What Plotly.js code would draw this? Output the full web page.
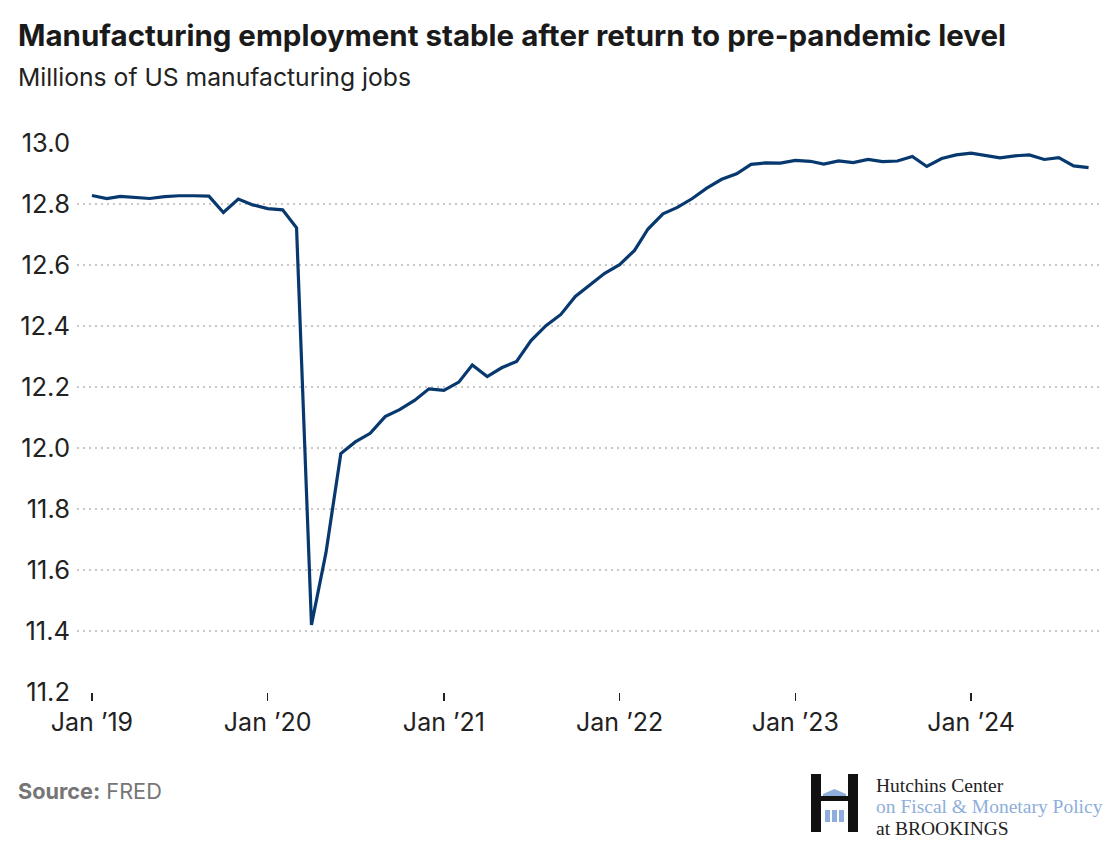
<!DOCTYPE html>
<html>
<head>
<meta charset="utf-8">
<script src="https://cdn.plot.ly/plotly-3.0.1.min.js"></script>
<style>
  html, body { margin: 0; padding: 0; background: #ffffff; }
  #chart { width: 1120px; height: 850px; }
</style>
</head>
<body>
<div id="chart"></div>
<script>
// ---- Data (millions of US manufacturing jobs, FRED MANEMP) ----
const months = [
  '2019-01-01','2019-02-01','2019-03-01','2019-04-01','2019-05-01','2019-06-01',
  '2019-07-01','2019-08-01','2019-09-01','2019-10-01','2019-11-01','2019-12-01',
  '2020-01-01','2020-02-01','2020-03-01','2020-04-01','2020-05-01','2020-06-01',
  '2020-07-01','2020-08-01','2020-09-01','2020-10-01','2020-11-01','2020-12-01',
  '2021-01-01','2021-02-01','2021-03-01','2021-04-01','2021-05-01','2021-06-01',
  '2021-07-01','2021-08-01','2021-09-01','2021-10-01','2021-11-01','2021-12-01',
  '2022-01-01','2022-02-01','2022-03-01','2022-04-01','2022-05-01','2022-06-01',
  '2022-07-01','2022-08-01','2022-09-01','2022-10-01','2022-11-01','2022-12-01',
  '2023-01-01','2023-02-01','2023-03-01','2023-04-01','2023-05-01','2023-06-01',
  '2023-07-01','2023-08-01','2023-09-01','2023-10-01','2023-11-01','2023-12-01',
  '2024-01-01','2024-02-01','2024-03-01','2024-04-01','2024-05-01','2024-06-01',
  '2024-07-01','2024-08-01','2024-09-01'
];
const jobs2019 = [12.828, 12.818, 12.825, 12.822, 12.818, 12.824, 12.827, 12.827, 12.826, 12.772, 12.816, 12.797];
const jobs2020 = [12.785, 12.781, 12.722, 11.420, 11.656, 11.982, 12.020, 12.048, 12.103, 12.126, 12.156, 12.194];
const jobs2021 = [12.189, 12.216, 12.272, 12.234, 12.263, 12.284, 12.352, 12.401, 12.438, 12.497, 12.534, 12.573];
const jobs2022 = [12.601, 12.648, 12.718, 12.768, 12.789, 12.818, 12.852, 12.881, 12.899, 12.930, 12.935, 12.934];
const jobs2023 = [12.943, 12.940, 12.931, 12.941, 12.936, 12.946, 12.939, 12.941, 12.956, 12.923, 12.949, 12.961];
const jobs2024 = [12.967, 12.958, 12.951, 12.958, 12.961, 12.946, 12.952, 12.925, 12.919];

const xTickVals = ['2019-01-01','2020-01-01','2021-01-01','2022-01-01','2023-01-01','2024-01-01'];
const xTickText = ['Jan \u201919','Jan \u201920','Jan \u201921','Jan \u201922','Jan \u201923','Jan \u201924'];
const yTickVals = [11.2, 11.4, 11.6, 11.8, 12.0, 12.2, 12.4, 12.6, 12.8, 13.0];

const titleText = 'Manufacturing employment stable after return to pre-pandemic level';
const subtitleText = 'Millions of US manufacturing jobs';
const sourceText = '<b>Source:</b> FRED';

// ---- Layout geometry ----
const W = 1120, H = 850;
const M = { l: 77, r: 17, t: 143, b: 158 };
const PW = W - M.l - M.r, PH = H - M.t - M.b;
const xp = px => (px - M.l) / PW;
const yp = py => (H - M.b - py) / PH;

const jobs = [].concat(jobs2019, jobs2020, jobs2021, jobs2022, jobs2023, jobs2024);

const FONT = 'Inter, "Noto Sans", sans-serif';
const SERIF = '"Liberation Serif", "DejaVu Serif", serif';
const logoBlue = '#8eaedb';

const trace = {
  x: months,
  y: jobs,
  type: 'scatter',
  mode: 'lines',
  line: { color: '#07396f', width: 3.2 },
  hoverinfo: 'x+y',
  cliponaxis: false
};

// Logo shapes (decoration)
function rectPx(x0, y0, x1, y1, color) {
  return { type: 'rect', xref: 'paper', yref: 'paper',
    x0: xp(x0), x1: xp(x1), y0: yp(y1), y1: yp(y0),
    fillcolor: color, line: { width: 0 }, layer: 'above' };
}
function pathPx(pts, color) {
  const d = pts.map((p, i) => (i ? 'L' : 'M') + xp(p[0]).toFixed(5) + ',' + yp(p[1]).toFixed(5)).join(' ') + ' Z';
  return { type: 'path', xref: 'paper', yref: 'paper', path: d,
    fillcolor: color, line: { width: 0 }, layer: 'above' };
}
const shapes = [
  rectPx(811, 774, 821, 832, '#111111'),
  rectPx(848, 774, 858, 832, '#111111'),
  rectPx(821, 796, 848, 801, '#111111'),
  pathPx([[823, 796], [846, 796], [846, 794], [834.5, 789], [823, 794]], logoBlue),
  rectPx(825, 810, 830, 822, logoBlue),
  rectPx(832, 810, 837, 822, logoBlue),
  rectPx(839, 810, 844, 822, logoBlue)
];

function ann(text, px, py, size, color, family, extra) {
  return Object.assign({
    text: text, xref: 'paper', yref: 'paper', x: xp(px), y: yp(py),
    xanchor: 'left', yanchor: 'middle', showarrow: false,
    font: { size: size, color: color, family: family }
  }, extra || {});
}

const annotations = [
  ann('<b>' + titleText + '</b>', 16, 35, 29.5, '#1a1a1a', FONT),
  ann(subtitleText, 16, 77, 24.7, '#222222', FONT),
  ann(sourceText, 16, 791, 21.7, '#767676', FONT),
  ann('Hutchins Center', 874, 785, 19.5, '#222222', SERIF),
  ann('on Fiscal &amp; Monetary Policy', 874, 806, 19.5, logoBlue, SERIF),
  ann('at BROOKINGS', 874, 828, 19.5, '#222222', SERIF)
];

const layout = {
  width: W, height: H,
  margin: M,
  paper_bgcolor: '#ffffff',
  plot_bgcolor: '#ffffff',
  showlegend: false,
  font: { family: FONT, color: '#222222' },
  xaxis: {
    type: 'date',
    range: ['2018-12-01', '2024-10-01'],
    tickvals: xTickVals,
    ticktext: xTickText,
    ticks: 'outside',
    ticklen: 8,
    tickwidth: 1.5,
    tickcolor: '#222222',
    showgrid: false,
    showline: false,
    zeroline: false,
    tickfont: { size: 25, color: '#222222', family: FONT },
    fixedrange: true
  },
  yaxis: {
    range: [11.2, 13.0],
    tickvals: yTickVals,
    tickformat: '.1f',
    ticks: '',
    showgrid: true,
    gridcolor: '#c8c8c8',
    gridwidth: 1.5,
    griddash: '2px,4px',
    showline: false,
    zeroline: false,
    tickfont: { size: 25.5, color: '#222222', family: FONT },
    ticklabelstandoff: 6,
    fixedrange: true
  },
  shapes: shapes,
  annotations: annotations
};

Plotly.newPlot('chart', [trace], layout, { displayModeBar: false, staticPlot: true });
</script>
</body>
</html>
